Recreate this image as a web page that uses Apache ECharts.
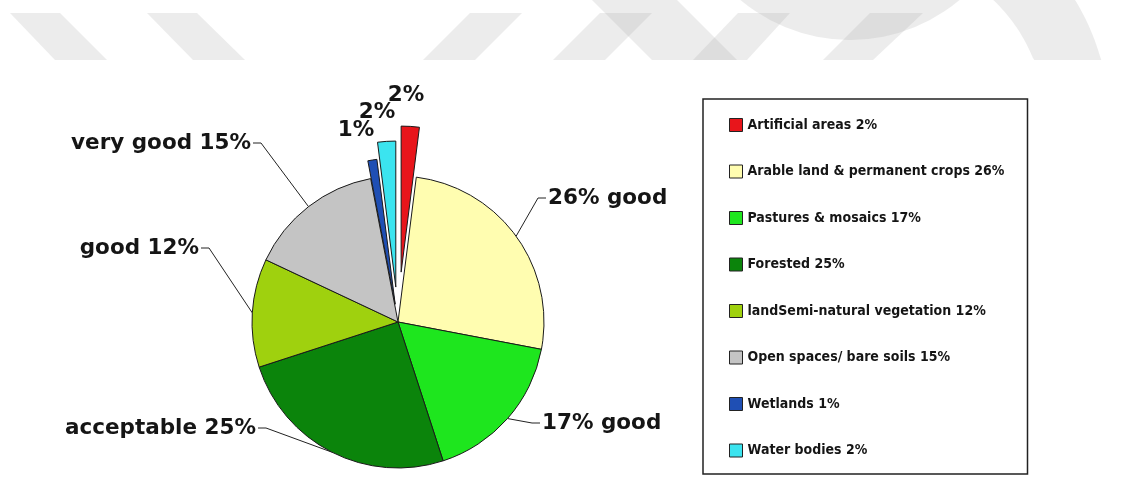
<!DOCTYPE html>
<html>
<head>
<meta charset="utf-8">
<script src="https://cdn.jsdelivr.net/npm/echarts@6/dist/echarts.min.js"></script>
<style>
  html, body { margin: 0; padding: 0; background: #ffffff; }
  #chart { width: 1129px; height: 483px; }
</style>
</head>
<body>
<div id="chart"></div>
<script>
// Land cover shares (%) and the quality note attached to each slice label
const categories = [
  'Artificial areas',
  'Arable land & permanent crops',
  'Pastures & mosaics',
  'Forested',
  'landSemi-natural vegetation',
  'Open spaces/ bare soils',
  'Wetlands',
  'Water bodies'
];
const shares = [2, 26, 17, 25, 12, 15, 1, 2];
const qualityNotes = ['', 'good', 'good', 'acceptable', 'good', 'very good', '', ''];

const sliceColors = ['#e8151b', '#fffdb0', '#1ee61e', '#0b840b', '#9fd10e', '#c4c4c4', '#1f4fb4', '#3be4ef'];

const FONT = '"DejaVu Sans", Verdana, sans-serif';
const LEGEND_FONT = '"DejaVu Sans Condensed", "DejaVu Sans", sans-serif';
const LEGEND_SIZE = 14;
const PIE_CENTER = [398, 322];
const PIE_RADIUS = 146;
// pulled-out slices: index -> distance in px
const explodeOffset = { 0: 50, 7: 35, 6: 18 };
// where each slice label sits
const labelSpot = {
  0: { x: 406, y: 95, align: 'center' },
  1: { x: 548, y: 198, align: 'left' },
  2: { x: 542, y: 423, align: 'left' },
  3: { x: 256, y: 428, align: 'right' },
  4: { x: 199, y: 248, align: 'right' },
  5: { x: 251, y: 143, align: 'right' },
  6: { x: 356, y: 130, align: 'center' },
  7: { x: 377, y: 112, align: 'center' }
};

function labelText(i) {
  const v = shares[i] + '%';
  const note = qualityNotes[i];
  if (!note) return v;
  return labelSpot[i].align === 'left' ? v + ' ' + note : note + ' ' + v;
}

function placeLabel(params) {
  const spot = labelSpot[params.dataIndex];
  if (!spot) return {};
  const out = { x: spot.x, y: spot.y, align: spot.align, verticalAlign: 'middle' };
  const pts = params.labelLinePoints;
  if (pts && pts.length && spot.align !== 'center') {
    const endX = spot.align === 'left' ? spot.x - 2 : spot.x + 2;
    const kinkX = spot.align === 'left' ? endX - 8 : endX + 8;
    out.labelLinePoints = [pts[0], [kinkX, spot.y], [endX, spot.y]];
  }
  return out;
}

// centre of a pulled-out slice, moved along its bisector
const total = shares.reduce(function (a, b) { return a + b; }, 0);
function shiftedCenter(idx, dist) {
  let before = 0;
  for (let i = 0; i < idx; i++) before += shares[i];
  const mid = (before + shares[idx] / 2) / total * 2 * Math.PI; // clockwise from 12 o'clock
  return [PIE_CENTER[0] + dist * Math.sin(mid), PIE_CENTER[1] - dist * Math.cos(mid)];
}

function buildData(isShown, noLine) {
  return categories.map(function (name, i) {
    const item = { name: name, value: shares[i] };
    if (!isShown(i)) {
      item.itemStyle = { color: 'rgba(0,0,0,0)', borderWidth: 0 };
      item.label = { show: false };
      item.labelLine = { show: false };
    } else {
      item.itemStyle = { color: sliceColors[i] };
      if (noLine) item.labelLine = { show: false };
    }
    return item;
  });
}

function pieSeries(data, center) {
  return {
    type: 'pie',
    center: center,
    radius: [0, PIE_RADIUS],
    startAngle: 90,
    clockwise: true,
    avoidLabelOverlap: false,
    silent: true,
    animation: false,
    selectedMode: false,
    itemStyle: { borderColor: '#1a1a1a', borderWidth: 1 },
    emphasis: { disabled: true },
    label: {
      show: true,
      position: 'outside',
      formatter: function (p) { return labelText(p.dataIndex); },
      fontFamily: FONT,
      fontWeight: 'bold',
      fontSize: 21.5,
      color: '#151515'
    },
    labelLine: {
      show: true,
      length: 20,
      length2: 10,
      lineStyle: { color: '#222222', width: 1 }
    },
    labelLayout: placeLabel,
    data: data
  };
}

const series = [pieSeries(buildData(function (i) { return !(i in explodeOffset); }, false), PIE_CENTER)];
Object.keys(explodeOffset).forEach(function (k) {
  const idx = +k;
  series.push(pieSeries(buildData(function (i) { return i === idx; }, true), shiftedCenter(idx, explodeOffset[k])));
});

// faint background stripes across the top
const stripeFill = 'rgba(170,170,170,0.22)';
function para(pts) {
  return { type: 'polygon', z: -10, silent: true, shape: { points: pts }, style: { fill: stripeFill } };
}
function ringPoints(cx, cy, r0, r1, a0, a1, cut) {
  const pts = [];
  const n = 40;
  for (let k = 0; k <= n; k++) {
    const a = (a0 + (a1 - a0) * k / n) * Math.PI / 180;
    pts.push([cx + r1 * Math.cos(a), Math.min(cut, cy + r1 * Math.sin(a))]);
  }
  for (let k = n; k >= 0; k--) {
    const a = (a0 + (a1 - a0) * k / n) * Math.PI / 180;
    pts.push([cx + r0 * Math.cos(a), Math.min(cut, cy + r0 * Math.sin(a))]);
  }
  return pts;
}
const backdrop = [
  para([[10, 13], [60, 13], [107, 60], [55, 60]]),
  para([[147, 13], [197, 13], [245, 60], [193, 60]]),
  para([[470, 13], [522, 13], [475, 60], [423, 60]]),
  para([[600, 13], [652, 13], [605, 60], [553, 60]]),
  para([[738, 13], [790, 13], [747, 60], [693, 60]]),
  para([[870, 13], [923, 13], [873, 60], [823, 60]]),
  para([[592, 0], [677, 0], [737, 60], [652, 60]]),
  { type: 'circle', z: -10, silent: true, shape: { cx: 850, cy: -130, r: 170 }, style: { fill: stripeFill } },
  { type: 'polygon', z: -10, silent: true, shape: { points: ringPoints(880, 120, 165, 229, -12, -70, 60) }, style: { fill: stripeFill } }
];

// legend box spans x 703..1027: pad the right side to reach that edge
const legendNames = categories.map(function (c, i) { return c + ' ' + shares[i] + '%'; });
const measureCtx = document.createElement('canvas').getContext('2d');
measureCtx.font = 'bold ' + LEGEND_SIZE + 'px ' + LEGEND_FONT;
const widest = Math.max.apply(null, legendNames.map(function (t) { return measureCtx.measureText(t).width; }));
const LEGEND_LEFT = 703, LEGEND_RIGHT = 1027, PAD_LEFT = 26, ICON = 13;
const padRight = Math.max(4, LEGEND_RIGHT - LEGEND_LEFT - PAD_LEFT - ICON - 5 - widest);

const chart = echarts.init(document.getElementById('chart'));
chart.setOption({
  backgroundColor: '#ffffff',
  animation: false,
  graphic: backdrop,
  legend: {
    orient: 'vertical',
    left: LEGEND_LEFT,
    top: 99,
    selectedMode: false,
    icon: 'rect',
    itemWidth: ICON,
    itemHeight: ICON,
    itemGap: 28.5,
    padding: [17, padRight, 14.5, PAD_LEFT],
    borderColor: '#222222',
    borderWidth: 1.5,
    data: categories.map(function (c, i) {
      return { name: c, itemStyle: { color: sliceColors[i], borderColor: '#222222', borderWidth: 1 } };
    }),
    formatter: function (name) { return legendNames[categories.indexOf(name)]; },
    textStyle: { fontFamily: LEGEND_FONT, fontWeight: 'bold', fontSize: LEGEND_SIZE, lineHeight: 18, color: '#151515' }
  },
  series: series
});
</script>
</body>
</html>
